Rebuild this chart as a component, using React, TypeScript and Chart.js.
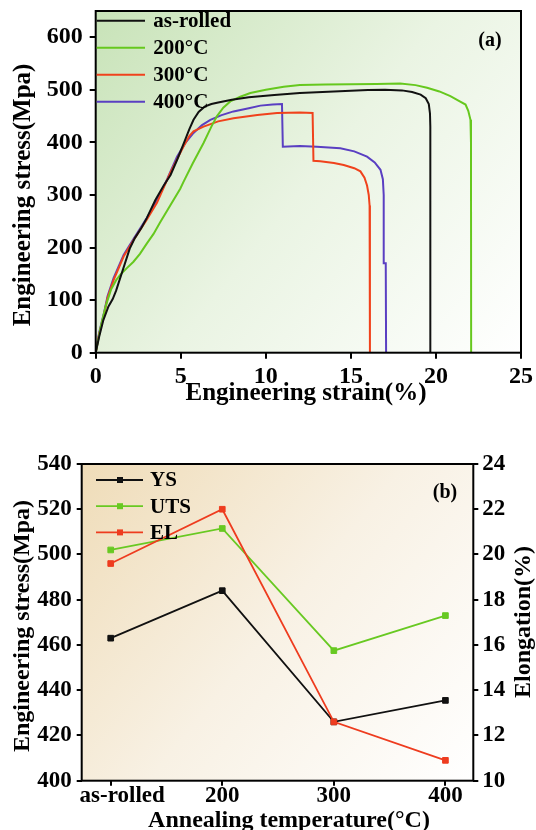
import React, { useEffect, useRef } from 'react';
import { Chart, registerables } from 'chart.js';

Chart.register(...registerables);

const FONT = '"Liberation Serif", "Times New Roman", Times, serif';

// ---------- Panel (a): engineering stress-strain curves ----------
const strainTicks = [0, 5, 10, 15, 20, 25];
const stressTicksA = [0, 100, 200, 300, 400, 500, 600];
const curveLabels = ['as-rolled', '200°C', '300°C', '400°C'];
const curveColors = ['#111111', '#66c81e', '#f0421c', '#5a3fc2'];

const asRolled: number[][] = [
  [0, 0], [0.2, 30], [0.45, 62], [0.75, 88], [1.0, 102], [1.2, 118], [1.6, 158], [2.0, 198],
  [2.3, 218], [2.7, 238], [3.0, 256], [3.5, 290], [4.0, 318], [4.4, 338], [4.8, 368], [5.2, 400],
  [5.5, 425], [5.75, 443], [6.05, 458], [6.4, 468], [6.8, 473], [7.2, 476], [8, 481], [9, 486],
  [10.5, 490], [12, 494], [14, 497], [16, 499.5], [17, 500], [18, 499], [18.6, 496], [19.1, 491],
  [19.4, 484], [19.58, 473], [19.65, 455], [19.67, 430], [19.67, 0],
];
const annealed200: number[][] = [
  [0, 0], [0.3, 50], [0.6, 90], [0.9, 120], [1.2, 138], [1.44, 148], [1.8, 160], [2.22, 173],
  [2.6, 188], [3.01, 208], [3.4, 226], [3.79, 248], [4.38, 280], [4.97, 312], [5.16, 325],
  [5.7, 360], [6.34, 399], [6.8, 430], [7.13, 450], [7.5, 466], [7.91, 478], [8.5, 487],
  [9.09, 494], [10, 500], [11.05, 506], [12, 509], [13.5, 510], [15, 510.5], [16.5, 511],
  [17.9, 512], [18.8, 509], [19.48, 504], [20.2, 497], [20.85, 488], [21.4, 478], [21.74, 472],
  [21.9, 460], [22.03, 443], [22.06, 400], [22.07, 0],
];
const annealed300: number[][] = [
  [0, 0], [0.2, 35], [0.46, 68], [0.7, 105], [1.05, 138], [1.64, 183], [2.22, 214], [3.0, 253],
  [3.6, 285], [4.38, 342], [5.16, 392], [5.5, 412], [5.75, 421], [6.34, 430], [7.2, 440],
  [8.1, 446], [9.5, 452], [10.66, 456], [12.0, 457], [12.75, 456], [12.8, 365], [13.2, 364],
  [14.0, 361], [14.58, 357], [15.2, 351], [15.56, 345], [15.8, 333], [15.95, 318], [16.05, 300],
  [16.1, 280], [16.12, 250], [16.12, 0],
];
const annealed400: number[][] = [
  [0, 0], [0.2, 38], [0.46, 72], [0.7, 108], [1.05, 142], [1.64, 186], [2.22, 216], [3.0, 256],
  [3.6, 290], [4.2, 330], [4.78, 373], [5.25, 398], [5.75, 418], [6.25, 433], [6.74, 443],
  [7.4, 452], [8.1, 459], [9.0, 465], [9.68, 470], [10.4, 472], [10.95, 473], [11.0, 392],
  [12.0, 393], [13.0, 392], [14.38, 389], [15.2, 383], [15.95, 373], [16.4, 362], [16.74, 348],
  [16.88, 330], [16.93, 300], [16.93, 170], [17.05, 170], [17.07, 0],
];
const curves = [asRolled, annealed200, annealed300, annealed400];

// ---------- Panel (b): properties vs annealing temperature ----------
const temperatures = ['as-rolled', '200', '300', '400'];
const stressTicksB = [400, 420, 440, 460, 480, 500, 520, 540];
const elongationTicks = [10, 12, 14, 16, 18, 20, 22, 24];
const ysValues = [463, 484, 426, 435.5];
const utsValues = [502, 511.5, 457.5, 473];
const elValues = [19.6, 22.0, 12.6, 10.9];

type TextItem = { text: string; x: number; y: number; size: number; rotate?: boolean; baseline?: CanvasTextBaseline };

const decorPlugin = {
  id: 'decor',
  beforeDraw(chart: any, _args: any, opts: any) {
    const { ctx, chartArea: a } = chart;
    const g = ctx.createLinearGradient(a.left, a.top, a.right, a.bottom);
    opts.bg.forEach((s: [number, string]) => g.addColorStop(s[0], s[1]));
    ctx.save();
    ctx.fillStyle = g;
    ctx.fillRect(a.left, a.top, a.right - a.left, a.bottom - a.top);
    ctx.restore();
  },
  afterDraw(chart: any, _args: any, opts: any) {
    const { ctx, chartArea: a } = chart;
    ctx.save();
    ctx.strokeStyle = '#000';
    ctx.lineWidth = 2;
    ctx.strokeRect(a.left, a.top, a.right - a.left, a.bottom - a.top);
    ctx.fillStyle = '#000';
    (opts.texts as TextItem[]).forEach((t) => {
      ctx.save();
      ctx.font = `bold ${t.size}px ${FONT}`;
      ctx.textAlign = 'center';
      ctx.textBaseline = t.baseline || 'alphabetic';
      ctx.translate(t.x, t.y);
      if (t.rotate) ctx.rotate(-Math.PI / 2);
      ctx.fillText(t.text, 0, 0);
      ctx.restore();
    });
    const L = opts.legend;
    chart.data.datasets.forEach((ds: any, i: number) => {
      const y = a.top + L.top + i * L.gap;
      ctx.strokeStyle = ds.borderColor;
      ctx.lineWidth = L.lineWidth;
      ctx.beginPath();
      ctx.moveTo(a.left + L.x0, y);
      ctx.lineTo(a.left + L.x1, y);
      ctx.stroke();
      if (L.marker) {
        ctx.fillStyle = ds.borderColor;
        ctx.fillRect(a.left + L.mx - L.marker / 2, y - L.marker / 2, L.marker, L.marker);
      }
      ctx.fillStyle = '#000';
      ctx.font = `bold ${L.size}px ${FONT}`;
      ctx.textAlign = 'left';
      ctx.textBaseline = 'middle';
      ctx.fillText(ds.label, a.left + L.tx, y + 1);
    });
    ctx.restore();
  },
};

const tickFont = (size: number) => ({ family: FONT, size, weight: 'bold' as const, lineHeight: 1 });
const axisGrid = (len: number) => ({
  display: true, drawOnChartArea: false, drawTicks: true, tickLength: len,
  color: '#000', tickColor: '#000', lineWidth: 2,
});
const fixTicks = (vals: number[]) => (s: any) => { s.ticks = vals.map((v) => ({ value: v })); };
const fixWidth = (w: number) => (s: any) => { s.width = w; s.paddingTop = 0; s.paddingBottom = 0; };
const fixHeight = (h: number) => (s: any) => { s.height = h; s.paddingLeft = 0; s.paddingRight = 0; };

export default function App() {
  const refA = useRef<HTMLCanvasElement>(null);
  const refB = useRef<HTMLCanvasElement>(null);

  useEffect(() => {
    const chartA = new Chart(refA.current as HTMLCanvasElement, {
      type: 'line',
      data: {
        datasets: curves.map((c, i) => ({
          label: curveLabels[i],
          data: c.map((p) => ({ x: p[0], y: p[1] })),
          borderColor: curveColors[i],
          backgroundColor: curveColors[i],
          borderWidth: 2,
          pointRadius: 0,
          tension: 0,
          fill: false,
        })),
      },
      options: {
        responsive: false,
        animation: false,
        devicePixelRatio: 1,
        layout: { padding: { top: 11, right: 15, bottom: 0, left: 0 } },
        plugins: {
          legend: { display: false },
          tooltip: { enabled: false },
          decor: {
            bg: [[0, '#c8e3b8'], [0.5, '#eaf4e3'], [1, '#ffffff']],
            texts: [
              { text: 'Engineering stress(Mpa)', x: 24, y: 195, size: 25, rotate: true, baseline: 'middle' },
              { text: 'Engineering strain(%)', x: 306, y: 400, size: 25 },
              { text: '(a)', x: 490, y: 41, size: 20, baseline: 'middle' },
            ],
            legend: { top: 9.7, gap: 27, x0: 1, x1: 49.3, tx: 57.6, lineWidth: 2, size: 21 },
          },
        } as any,
        scales: {
          x: {
            type: 'linear', min: 0, max: 25,
            afterBuildTicks: fixTicks(strainTicks),
            afterFit: fixHeight(57.3),
            grid: axisGrid(6),
            border: { display: false },
            ticks: { font: tickFont(24), color: '#000', padding: 6, maxRotation: 0, autoSkip: false },
          },
          y: {
            type: 'linear', min: 0, max: 650,
            afterBuildTicks: fixTicks(stressTicksA),
            afterFit: fixWidth(95.7),
            grid: axisGrid(6),
            border: { display: false },
            ticks: { font: tickFont(24), color: '#000', padding: 7, autoSkip: false },
          },
        },
      },
      plugins: [decorPlugin],
    } as any);

    const chartB = new Chart(refB.current as HTMLCanvasElement, {
      type: 'line',
      data: {
        datasets: [
          { label: 'YS', data: ysValues.map((v, i) => ({ x: i, y: v })), borderColor: '#111111', yAxisID: 'y', order: 2 },
          { label: 'UTS', data: utsValues.map((v, i) => ({ x: i, y: v })), borderColor: '#68c922', yAxisID: 'y', order: 1 },
          { label: 'EL', data: elValues.map((v, i) => ({ x: i, y: v })), borderColor: '#ee3c1f', yAxisID: 'y1', order: 0 },
        ].map((d) => ({
          ...d,
          backgroundColor: d.borderColor,
          pointBackgroundColor: d.borderColor,
          pointBorderColor: d.borderColor,
          pointStyle: 'rect',
          pointRadius: 4,
          pointBorderWidth: 1,
          borderWidth: 1.8,
          tension: 0,
          fill: false,
        })),
      },
      options: {
        responsive: false,
        animation: false,
        devicePixelRatio: 1,
        layout: { padding: { top: 54, right: 0, bottom: 0, left: 0 } },
        plugins: {
          legend: { display: false },
          tooltip: { enabled: false },
          decor: {
            bg: [[0, '#efdcb8'], [0.5, '#f8f1e4'], [1, '#ffffff']],
            texts: [
              { text: 'Engineering stress(Mpa)', x: 23, y: 216, size: 24, rotate: true, baseline: 'middle' },
              { text: 'Elongation(%)', x: 524, y: 212, size: 24, rotate: true, baseline: 'middle' },
              { text: 'Annealing temperature(°C)', x: 289, y: 417, size: 24 },
              { text: '(b)', x: 445, y: 83, size: 20, baseline: 'middle' },
            ],
            legend: { top: 16, gap: 26.2, x0: 14.3, x1: 61.3, mx: 38.3, marker: 6, tx: 68.3, lineWidth: 1.8, size: 21 },
          },
        } as any,
        scales: {
          x: {
            type: 'linear', min: -0.26, max: 3.25,
            afterBuildTicks: fixTicks([0, 1, 2, 3]),
            afterFit: fixHeight(49.3),
            grid: axisGrid(5),
            border: { display: false },
            ticks: {
              font: tickFont(23), color: '#000', padding: -1, maxRotation: 0, autoSkip: false,
              callback: (v: any) => {
                const i = Math.round(Number(v));
                return i === 0 ? '\u2002\u2002' + temperatures[i] : temperatures[i];
              },
            },
          },
          y: {
            type: 'linear', position: 'left', min: 400, max: 540,
            afterBuildTicks: fixTicks(stressTicksB),
            afterFit: fixWidth(81.7),
            grid: axisGrid(5),
            border: { display: false },
            ticks: { font: tickFont(23), color: '#000', padding: 5, autoSkip: false },
          },
          y1: {
            type: 'linear', position: 'right', min: 10, max: 24,
            afterBuildTicks: fixTicks(elongationTicks),
            afterFit: fixWidth(62.7),
            grid: axisGrid(5),
            border: { display: false },
            ticks: { font: tickFont(23), color: '#000', padding: 4, autoSkip: false },
          },
        },
      },
      plugins: [decorPlugin],
    } as any);

    return () => {
      chartA.destroy();
      chartB.destroy();
    };
  }, []);

  return (
    <div style={{ position: 'absolute', left: 0, top: 0, width: 536, height: 830, background: '#ffffff' }}>
      <canvas ref={refA} width={536} height={410} style={{ position: 'absolute', left: 0, top: 0, width: 536, height: 410 }} />
      <canvas ref={refB} width={536} height={420} style={{ position: 'absolute', left: 0, top: 410, width: 536, height: 420 }} />
    </div>
  );
}
